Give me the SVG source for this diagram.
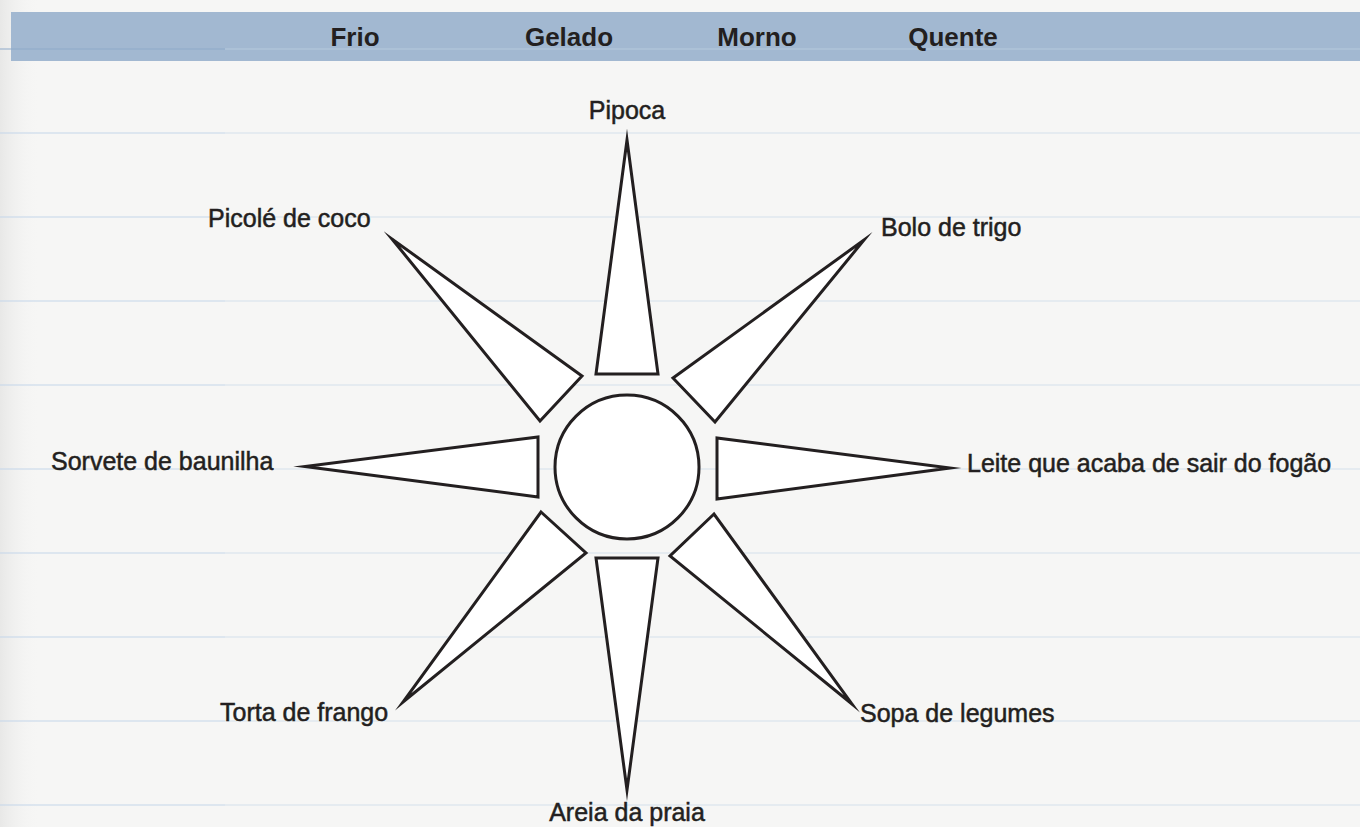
<svg xmlns="http://www.w3.org/2000/svg" width="1360" height="827" viewBox="0 0 1360 827">
  <defs>
    <linearGradient id="edge" x1="0" y1="0" x2="1" y2="0">
      <stop offset="0" stop-color="#e8e8e7"/>
      <stop offset="1" stop-color="#f6f6f5" stop-opacity="0"/>
    </linearGradient>
    <style>
      .bg { fill: #f6f6f5; }
      .lineL { stroke: #c4d5ea; stroke-width: 1.2; }
      .lineR { stroke: #d3dfeb; stroke-width: 1.2; }
      .hdr { fill: #a2b8d1; }
      .ray { fill: #ffffff; stroke: #231f20; stroke-width: 3; stroke-linejoin: miter; stroke-miterlimit: 30; }
      .hub { fill: #ffffff; stroke: #231f20; stroke-width: 3; }
      .lbl { font-family: "Liberation Sans", Arial, sans-serif; font-size: 25px; fill: #231f20; stroke: #231f20; stroke-width: 0.5; }
      .col { font-family: "Liberation Sans", Arial, sans-serif; font-size: 26px; font-weight: bold; fill: #231f20; text-anchor: middle; }
    </style>
  </defs>

  <rect class="bg" x="0" y="0" width="1360" height="827"/>
  <rect x="0" y="0" width="40" height="827" fill="url(#edge)"/>

  <g id="ruled-lines">
    <line class="lineL" x1="0" y1="133" x2="225" y2="133"/>
    <line class="lineR" x1="225" y1="133" x2="1360" y2="133"/>
    <line class="lineL" x1="0" y1="217" x2="225" y2="217"/>
    <line class="lineR" x1="225" y1="217" x2="1360" y2="217"/>
    <line class="lineL" x1="0" y1="301" x2="225" y2="301"/>
    <line class="lineR" x1="225" y1="301" x2="1360" y2="301"/>
    <line class="lineL" x1="0" y1="385" x2="225" y2="385"/>
    <line class="lineR" x1="225" y1="385" x2="1360" y2="385"/>
    <line class="lineL" x1="0" y1="469" x2="225" y2="469"/>
    <line class="lineR" x1="225" y1="469" x2="1360" y2="469"/>
    <line class="lineL" x1="0" y1="553" x2="225" y2="553"/>
    <line class="lineR" x1="225" y1="553" x2="1360" y2="553"/>
    <line class="lineL" x1="0" y1="637" x2="225" y2="637"/>
    <line class="lineR" x1="225" y1="637" x2="1360" y2="637"/>
    <line class="lineL" x1="0" y1="721" x2="225" y2="721"/>
    <line class="lineR" x1="225" y1="721" x2="1360" y2="721"/>
    <line class="lineL" x1="0" y1="805" x2="225" y2="805"/>
    <line class="lineR" x1="225" y1="805" x2="1360" y2="805"/>
  </g>

  <g id="header">
    <rect class="hdr" x="11" y="12" width="1349" height="49"/>
    <line x1="0" y1="49" x2="225" y2="49" stroke="#8ea9c9" stroke-width="1.2"/>
    <line x1="225" y1="49" x2="1360" y2="49" stroke="#b6c9de" stroke-width="1.2"/>
    <text class="col" x="355" y="46">Frio</text>
    <text class="col" x="569" y="46">Gelado</text>
    <text class="col" x="757" y="46">Morno</text>
    <text class="col" x="953" y="46">Quente</text>
  </g>

  <g id="hub">
    <circle class="hub" cx="627" cy="467" r="72"/>
  </g>

  <g id="ray-pipoca">
    <polygon class="ray" points="596,374 658,374 627,140"/>
    <text class="lbl" x="627" y="119" text-anchor="middle">Pipoca</text>
  </g>
  <g id="ray-bolo">
    <polygon class="ray" points="673,378 715,422 864,240"/>
    <text class="lbl" x="881" y="236">Bolo de trigo</text>
  </g>
  <g id="ray-leite">
    <polygon class="ray" points="717,438 717,499 950,468"/>
    <text class="lbl" x="967" y="472">Leite que acaba de sair do fogão</text>
  </g>
  <g id="ray-sopa">
    <polygon class="ray" points="714,514 670,556 852,704"/>
    <text class="lbl" x="860" y="722">Sopa de legumes</text>
  </g>
  <g id="ray-areia">
    <polygon class="ray" points="596,558 658,558 627,790"/>
    <text class="lbl" x="627" y="821" text-anchor="middle">Areia da praia</text>
  </g>
  <g id="ray-torta">
    <polygon class="ray" points="541,512 586,553 403,702"/>
    <text class="lbl" x="220" y="721">Torta de frango</text>
  </g>
  <g id="ray-sorvete">
    <polygon class="ray" points="538,437 538,497 305,466.5"/>
    <text class="lbl" x="51" y="470">Sorvete de baunilha</text>
  </g>
  <g id="ray-picole">
    <polygon class="ray" points="582,376 540,421 392,239"/>
    <text class="lbl" x="208" y="227">Picolé de coco</text>
  </g>
</svg>
